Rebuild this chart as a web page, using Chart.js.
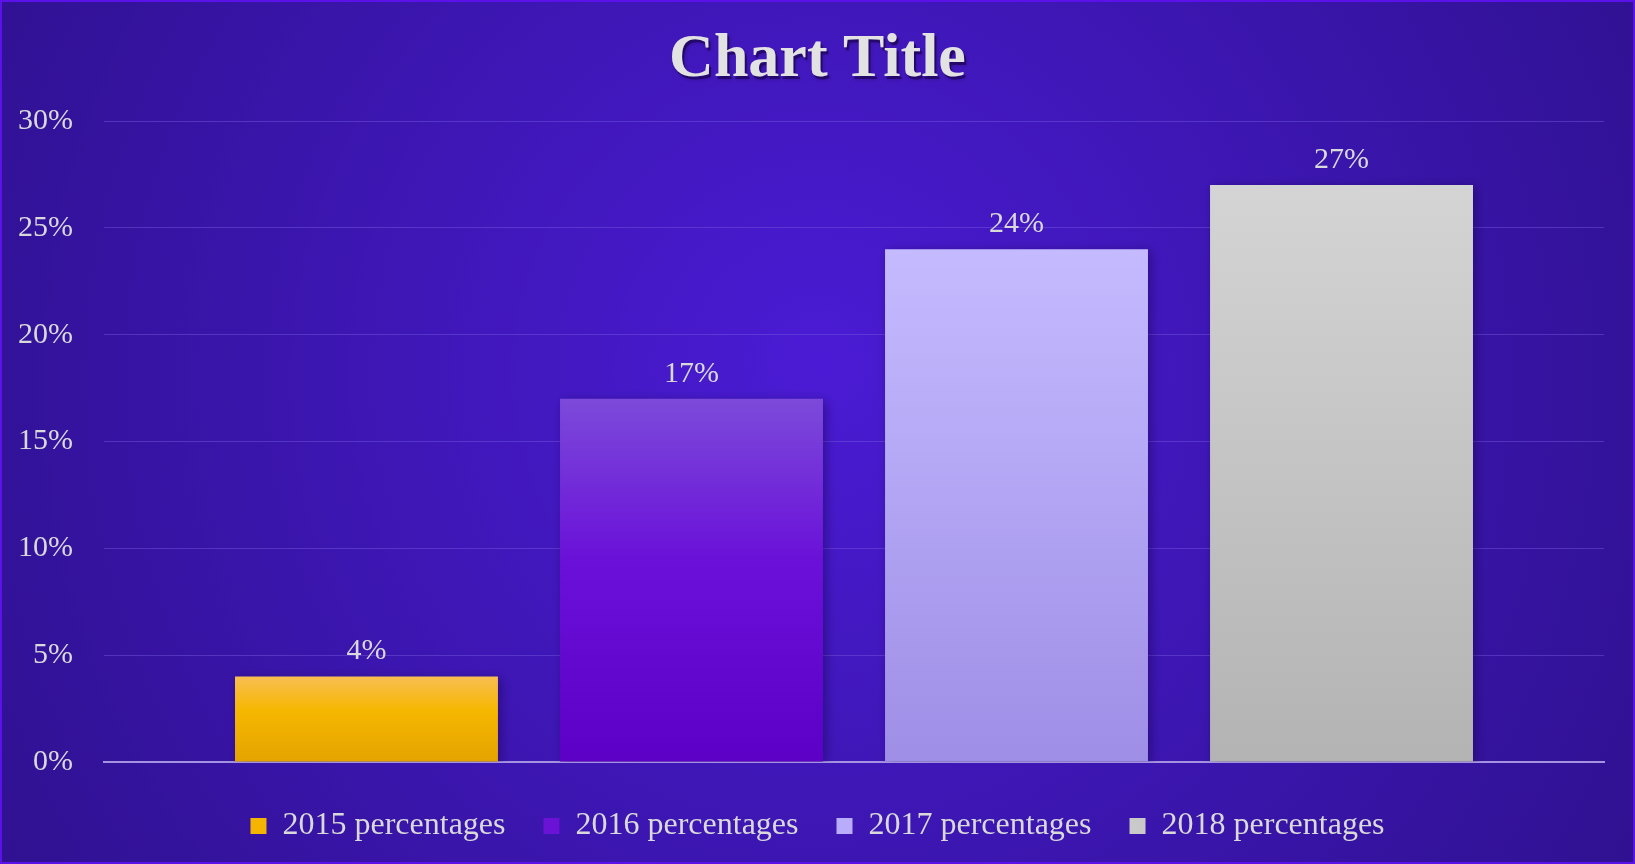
<!DOCTYPE html>
<html>
<head>
<meta charset="utf-8">
<script src="https://cdn.jsdelivr.net/npm/chart.js@4/dist/chart.umd.min.js"></script>
<style>
  html, body { margin: 0; padding: 0; background: #3a15a8; }
  #wrap { width: 1635px; height: 864px; position: relative; }
  canvas { display: block; }
</style>
</head>
<body>
<div id="wrap"><canvas id="c" width="1635" height="864"></canvas></div>
<script>
const categories = [''];
const seriesNames = ['2015 percentages', '2016 percentages', '2017 percentages', '2018 percentages'];
const values2015 = [0.04];
const values2016 = [0.17];
const values2017 = [0.24];
const values2018 = [0.27];
const dataLabels2015 = ['4%'];
const dataLabels2016 = ['17%'];
const dataLabels2017 = ['24%'];
const dataLabels2018 = ['27%'];
const tickLabels = ['0%', '5%', '10%', '15%', '20%', '25%', '30%'];

const FONT = "'Liberation Serif', 'Times New Roman', serif";
const TEXT = '#d9d9d9';

const gradientStops = [
  [[0, '#f8be52'], [0.4, '#f6b700'], [1, '#e5a300']],
  [[0, '#7c4ada'], [0.45, '#6a10d8'], [1, '#5c00c6']],
  [[0, '#c5baff'], [1, '#9e8ee6']],
  [[0, '#d4d4d4'], [1, '#b3b3b3']]
];
const solidColors = ['#f5b400', '#6a12d6', '#b9acfa', '#c9c9c9'];
const allLabels = [dataLabels2015, dataLabels2016, dataLabels2017, dataLabels2018];

function barGradient(idx) {
  return function (ctx) {
    const chart = ctx.chart;
    if (!chart.chartArea || ctx.type !== 'data') return solidColors[idx];
    const ys = chart.scales.y;
    const top = ys.getPixelForValue(ctx.raw);
    const base = ys.getPixelForValue(0);
    if (!isFinite(top) || !isFinite(base) || top === base) return solidColors[idx];
    const g = chart.ctx.createLinearGradient(0, top, 0, base);
    gradientStops[idx].forEach(s => g.addColorStop(s[0], s[1]));
    return g;
  };
}

const bgPlugin = {
  id: 'bg',
  afterLayout(chart) {
    const shift = 15.5;
    if (chart.legend) {
      chart.legend.left += shift;
      chart.legend.right += shift;
    }
    if (chart.titleBlock) {
      chart.titleBlock.left += shift;
      chart.titleBlock.right += shift;
    }
  },
  beforeDraw(chart) {
    const { ctx, width, height } = chart;
    ctx.save();
    const g = ctx.createRadialGradient(width * 0.5, height * 0.42, 0, width * 0.5, height * 0.45, width * 0.58);
    g.addColorStop(0, '#4a1bd4');
    g.addColorStop(1, '#2f1190');
    ctx.fillStyle = g;
    ctx.fillRect(0, 0, width, height);
    ctx.strokeStyle = '#5b12e8';
    ctx.lineWidth = 2;
    ctx.strokeRect(1, 1, width - 2, height - 2);
    // title shadow
    const tb = chart.titleBlock;
    if (tb && tb.options.display) {
      const f = tb.options.font;
      ctx.font = `bold ${f.size}px ${FONT}`;
      ctx.textAlign = 'center';
      ctx.textBaseline = 'middle';
      ctx.fillStyle = 'rgba(20,0,60,0.55)';
      ctx.shadowColor = 'rgba(20,0,60,0.6)';
      ctx.shadowBlur = 4;
      const cx = (tb.left + tb.right) / 2;
      const cy = tb.top + tb.options.padding.top + (f.size * 1.2) / 2;
      ctx.fillText(tb.options.text, cx + 2, cy + 3);
    }
    ctx.restore();
  }
};

const barFx = {
  id: 'barFx',
  beforeDatasetsDraw(chart) {
    const ctx = chart.ctx;
    ctx.save();
    ctx.shadowColor = 'rgba(20,0,70,0.45)';
    ctx.shadowBlur = 10;
    ctx.shadowOffsetX = 3;
    ctx.shadowOffsetY = 2;
  },
  afterDatasetsDraw(chart) {
    const ctx = chart.ctx;
    ctx.restore();
    ctx.save();
    ctx.font = `30px ${FONT}`;
    ctx.fillStyle = TEXT;
    ctx.textAlign = 'center';
    ctx.textBaseline = 'middle';
    chart.data.datasets.forEach((ds, i) => {
      const meta = chart.getDatasetMeta(i);
      meta.data.forEach((el, j) => {
        ctx.fillText(allLabels[i][j], el.x, el.y - 25);
      });
    });
    ctx.restore();
  }
};

new Chart(document.getElementById('c'), {
  type: 'bar',
  data: {
    labels: categories,
    datasets: [
      { label: seriesNames[0], data: values2015, backgroundColor: barGradient(0) },
      { label: seriesNames[1], data: values2016, backgroundColor: barGradient(1) },
      { label: seriesNames[2], data: values2017, backgroundColor: barGradient(2) },
      { label: seriesNames[3], data: values2018, backgroundColor: barGradient(3) }
    ]
  },
  options: {
    responsive: false,
    animation: false,
    layout: { padding: { left: 0, right: 31, top: 0, bottom: 12 } },
    datasets: { bar: { categoryPercentage: 0.8667, barPercentage: 0.809, borderWidth: 0 } },
    scales: {
      x: {
        afterFit(scale) { scale.height = 10; },
        grid: { display: false, drawTicks: false },
        border: { display: true, color: '#a493e0', width: 2 },
        ticks: { display: false }
      },
      y: {
        min: 0, max: 0.3,
        afterFit(scale) { scale.width = 104; },
        grid: { color: 'rgba(120,90,225,0.45)', lineWidth: 1, drawTicks: false },
        border: { display: false },
        ticks: {
          stepSize: 0.05,
          padding: 31,
          color: TEXT,
          font: { family: FONT, size: 30 },
          callback: (v, i) => tickLabels[i]
        }
      }
    },
    plugins: {
      title: {
        display: true,
        text: 'Chart Title',
        color: '#e2e2e2',
        font: { family: FONT, size: 62, weight: 'bold' },
        padding: { top: 23, bottom: 23.6 }
      },
      legend: {
        position: 'bottom',
        labels: {
          color: TEXT,
          font: { family: FONT, size: 32 },
          boxWidth: 16,
          boxHeight: 16,
          padding: 38,
          generateLabels(chart) {
            return chart.data.datasets.map((ds, i) => ({
              text: ds.label,
              fillStyle: solidColors[i],
              strokeStyle: solidColors[i],
              lineWidth: 0,
              hidden: false,
              datasetIndex: i,
              fontColor: TEXT
            }));
          }
        }
      },
      tooltip: { enabled: false }
    }
  },
  plugins: [bgPlugin, barFx]
});
</script>
</body>
</html>
